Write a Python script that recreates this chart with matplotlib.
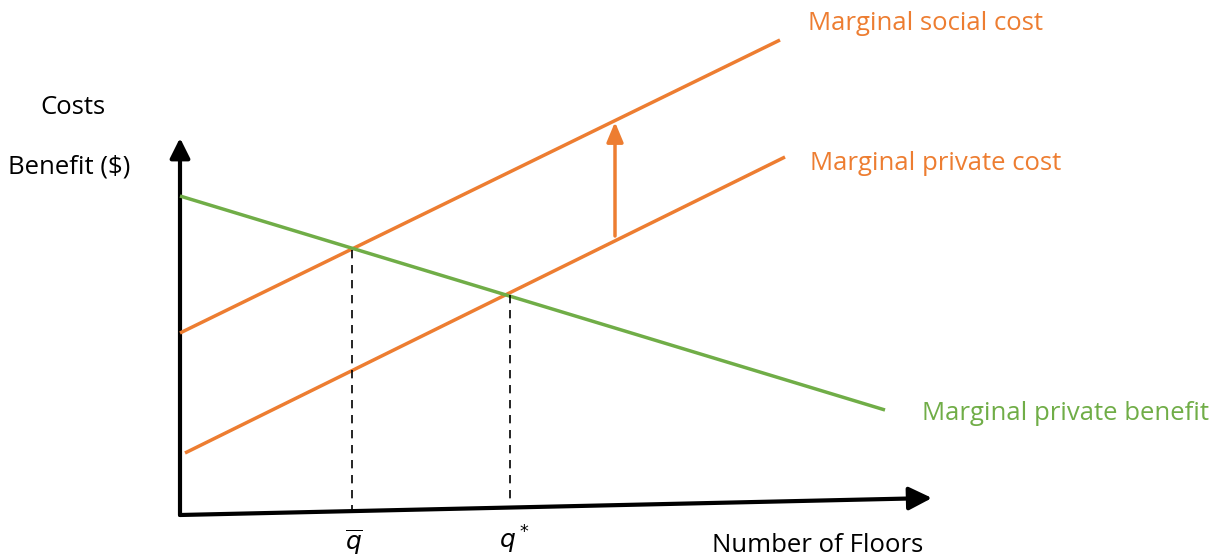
import matplotlib.pyplot as plt
from matplotlib.patches import FancyArrowPatch

# line endpoints (x, height) in figure units
social_x = [180, 780]
social_y = [227, 520]
private_x = [185, 785]
private_y = [107, 403]
benefit_x = [180, 885]
benefit_y = [364, 150]

qbar_x = 352
qbar_top = 310
qstar_x = 510
qstar_top = 265

shift_x = 615
shift_from = 324
shift_to = 438

ORANGE = "#ED7D31"
GREEN = "#70AD47"

plt.rcParams['font.family'] = ['Open Sans', 'DejaVu Sans']

fig = plt.figure(figsize=(12.23, 5.6), dpi=100)
ax = fig.add_axes([0, 0, 1, 1])
ax.set_xlim(0, 1223)
ax.set_ylim(0, 560)
ax.axis("off")

ax.plot(social_x, social_y, color=ORANGE, lw=2.5, solid_capstyle="butt")
ax.plot(private_x, private_y, color=ORANGE, lw=2.5, solid_capstyle="butt")
ax.plot(benefit_x, benefit_y, color=GREEN, lw=2.5, solid_capstyle="butt")

# dashed drops to the axis
ax.plot([qbar_x, qbar_x], [qbar_top, 50], color="black", lw=1.2, ls=(0, (5, 4)))
ax.plot([qstar_x, qstar_x], [qstar_top, 55], color="black", lw=1.2, ls=(0, (5, 4)))

# axes with arrows
ax.add_patch(FancyArrowPatch((180, 45), (180, 422), arrowstyle="-|>,head_length=12,head_width=6",
                             color="black", lw=3, mutation_scale=1, shrinkA=0, shrinkB=0))
ax.add_patch(FancyArrowPatch((180, 45), (932, 62), arrowstyle="-|>,head_length=14,head_width=7",
                             color="black", lw=3, mutation_scale=1, shrinkA=0, shrinkB=0))

# externality arrow
ax.add_patch(FancyArrowPatch((shift_x, shift_from), (shift_x, shift_to), arrowstyle="-|>,head_length=12,head_width=5",
                             color=ORANGE, lw=2.5, mutation_scale=1, shrinkA=0, shrinkB=0))

fs = 18.5
ax.text(40, 453, "Costs", fontsize=fs, va="center", ha="left")
ax.text(8, 393, "Benefit ($)", fontsize=fs, va="center", ha="left")
ax.text(808, 537, "Marginal social cost", fontsize=fs, color=ORANGE, va="center", ha="left")
ax.text(810, 396, "Marginal private cost", fontsize=fs, color=ORANGE, va="center", ha="left")
ax.text(922, 147, "Marginal private benefit", fontsize=fs, color=GREEN, va="center", ha="left")
ax.text(712, 14, "Number of Floors", fontsize=fs, va="center", ha="left")
ax.text(354, 18, r"$\overline{q}$", fontsize=18, va="center", ha="center")
ax.text(514, 20, r"$q^*$", fontsize=18, va="center", ha="center")

fig.savefig("out.png", dpi=100)
